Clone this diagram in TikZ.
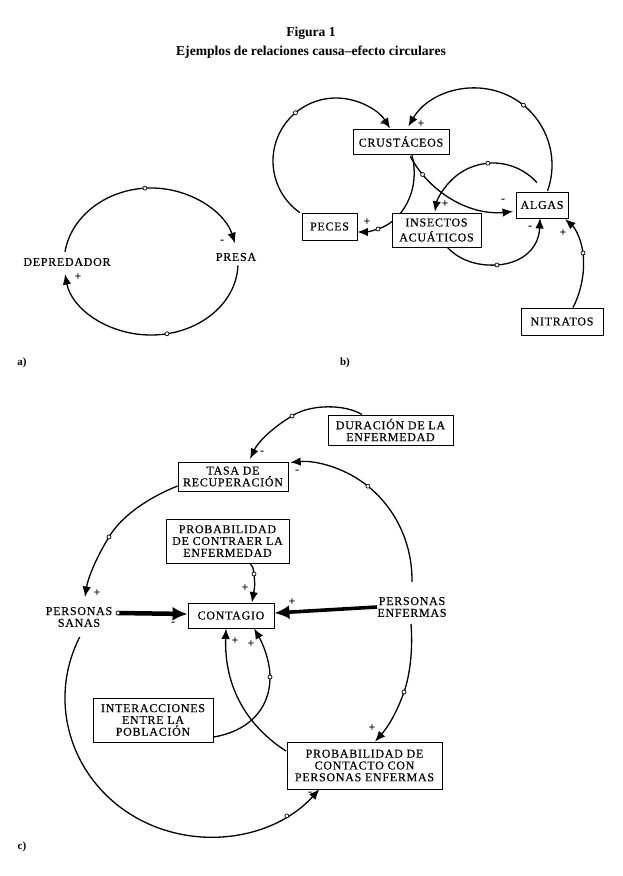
\documentclass[tikz,border=0pt]{standalone}
\usepackage{fontspec}
\setmainfont{Liberation Serif}
\newfontfamily\lblfont[LetterSpace=6,FakeBold=0.35]{Liberation Serif}
\usetikzlibrary{arrows.meta,calc}
\pgfdeclarelayer{bg}
\pgfdeclarelayer{paper}
\pgfsetlayers{paper,bg,main}
\begin{document}
\begin{tikzpicture}[x=1pt,y=-1pt,
  txt/.style={inner sep=0pt,align=center,font=\lblfont\fontsize{12}{11.8}\selectfont},
  box/.style={txt,draw,line width=0.9pt,fill=white},
  lnk/.style={line width=1.3pt,-{Latex[length=10.5pt,width=8.5pt]}},
  fatA/.style={line width=4.5pt,-{Latex[length=15pt,width=14pt]}},
  fatB/.style={line width=3.6pt,-{Latex[length=15pt,width=14pt]}},
  dot/.style={circle,draw,fill=white,inner sep=0pt,minimum size=4pt,line width=0.7pt},
  sg/.style={inner sep=0pt,font=\bfseries\fontsize{12}{12}\selectfont},
  part/.style={inner sep=0pt,font=\bfseries\fontsize{11}{11}\selectfont}
]
\useasboundingbox (0,0) rectangle (622,876);
\begin{pgfonlayer}{paper}
\fill[white] (0,0) rectangle (622,876);
\end{pgfonlayer}

% title
\node[align=center,font=\bfseries\fontsize{13.6}{19}\selectfont] (title) at (311,43)
  {Figura 1\\Ejemplos de relaciones causa–efecto circulares};

% ---------------- a)
\node[txt] (dep) at (67,262) {DEPREDADOR};
\node[txt] (presa) at (236,257) {PRESA};
\node[part] (la) at (22,363) {a)};
\begin{pgfonlayer}{bg}
\draw[lnk] ($(151,263)+(188.6:87 and 75)$) arc[start angle=188.6,end angle=344.7,x radius=87,y radius=75];
\draw[lnk] ($(151,263)+(2:87 and 72)$) arc[start angle=2,end angle=171.2,x radius=87,y radius=72];
\end{pgfonlayer}
\node[dot] (da1) at ($(151,263)+(266:87 and 75)$) {};
\node[dot] (da2) at ($(151,263)+(79.4:87 and 72)$) {};
\node[sg] (sa1) at (222,242) {-};
\node[sg] (sa2) at (78,277) {+};

% ---------------- b)
\node[box,minimum width=96pt,minimum height=25pt] (crus) at (401,141.5) {CRUSTÁCEOS};
\node[box,minimum width=55pt,minimum height=27pt] (peces) at (329.5,226.5) {PECES};
\node[box,minimum width=89pt,minimum height=34pt,font=\lblfont\fontsize{12}{15}\selectfont] (ins) at (436.5,230) {INSECTOS\\ACUÁTICOS};
\node[box,minimum width=52pt,minimum height=26pt] (algas) at (542,205) {ALGAS};
\node[box,minimum width=82pt,minimum height=27pt] (nitr) at (562,321.5) {NITRATOS};
\node[part] (lb) at (345,363) {b)};
\begin{pgfonlayer}{bg}
% peces -> crustaceos
\draw[lnk] ($(336,161)+(125:63)$) arc[start angle=125,end angle=329,radius=63];
% algas -> crustaceos
\draw[lnk] ($(475,165)+(19.6:77)$) arc[start angle=19.6,end angle=-150,radius=77];
% crustaceos -> algas
\draw[lnk] ($(503,107)+(152:105)$) arc[start angle=152,end angle=84.5,radius=105];
% crustaceos -> peces
\draw[lnk] (412,155) .. controls (421,192) and (401,222) .. (378,229) .. controls (372,231) and (367,232) .. (peces.east |- 0,232);
% algas -> insectos
\draw[lnk] ($(493,222)+(318:59)$) arc[start angle=318,end angle=190,radius=59];
% insectos -> algas
\draw[lnk] (447,247) .. controls (460,261) and (478,266) .. (497,265) .. controls (525,263) and (539,246) .. (540,218);
% nitratos -> algas
\draw[lnk] (nitr.north -| 573,0) .. controls (582,290) and (585,270) .. (583,253) .. controls (581,238) and (575,228) .. (565,219);
\end{pgfonlayer}
\node[dot] (db1) at ($(336,161)+(230:63)$) {};
\node[dot] (db2) at ($(475,165)+(-51:77)$) {};
\node[dot] (db3) at ($(503,107)+(140:105)$) {};
\node[dot] (db4) at (378,229) {};
\node[dot] (db5) at ($(493,222)+(265:59)$) {};
\node[dot] (db6) at (497,265) {};
\node[dot] (db7) at (583,253) {};
\node[sg] (sb1) at (382,125) {-};
\node[sg] (sb2) at (421,124) {+};
\node[sg] (sb3) at (503,201) {-};
\node[sg] (sb4) at (445,204) {+};
\node[sg] (sb5) at (367,222) {+};
\node[sg] (sb6) at (530,228) {-};
\node[sg] (sb7) at (563,233) {+};

% ---------------- c)
\node[box,minimum width=110pt,minimum height=29pt] (tasa) at (233,476.5) {TASA DE\\RECUPERACIÓN};
\node[box,minimum width=123pt,minimum height=44pt] (contr) at (227.5,541) {PROBABILIDAD\\DE CONTRAER LA\\ENFERMEDAD};
\node[box,minimum width=125pt,minimum height=30pt] (dur) at (390.5,430) {DURACIÓN DE LA\\ENFERMEDAD};
\node[txt] (enf) at (412,607) {PERSONAS\\ENFERMAS};
\node[box,minimum width=86pt,minimum height=25pt] (cont) at (231,615.5) {CONTAGIO};
\node[txt] (sanas) at (79,617) {PERSONAS\\SANAS};
\node[box,minimum width=120pt,minimum height=44pt] (inter) at (153,720) {INTERACCIONES\\ENTRE LA\\POBLACIÓN};
\node[box,minimum width=155pt,minimum height=47pt] (conta) at (364.5,765.5) {PROBABILIDAD DE\\CONTACTO CON\\PERSONAS ENFERMAS};
\node[part] (lc) at (22,847) {c)};
\begin{pgfonlayer}{bg}
% duracion -> tasa
\draw[lnk] (dur.north -| 362,0) .. controls (345,404) and (310,404) .. (292,416) .. controls (272,428) and (258,442) .. (250,459);
% enfermas -> tasa
\draw[lnk] ($(300,580)+(1:112 and 118)$) arc[start angle=1,end angle=-95,x radius=112,y radius=118];
% tasa -> sanas
\draw[lnk] (tasa.west |- 0,486) .. controls (150,497) and (122,515) .. (109,537) .. controls (96,558) and (88,578) .. (85,597);
% contraer -> contagio
\draw[lnk] (contr.south -| 250,0) .. controls (253,567) .. (254,574) .. controls (255,585) .. (cont.north -| 252,0);
% sanas -> contagio
\draw[fatA] (118,613) -- (cont.west |- 0,614);
% enfermas -> contagio
\draw[fatB] (377,607) -- (cont.east |- 0,613);
% interacciones -> contagio
\draw[lnk] (inter.east |- 0,737) .. controls (245,732) and (270,712) .. (270,677) .. controls (270,660) and (262,642) .. (cont.south -| 254,0);
% contacto -> contagio
\draw[lnk] (286,751) .. controls (250,728) and (224,690) .. (cont.south -| 226,0);
% enfermas -> contacto
\draw[lnk] (411,624) .. controls (413,650) and (410,675) .. (404,692) .. controls (397,712) and (388,727) .. (conta.north -| 375,0);
% sanas -> contacto
\draw[lnk] ($(210,698)+(206:145 and 139)$) arc[start angle=206,end angle=41,x radius=145,y radius=139];
\end{pgfonlayer}
\node[dot] (dc1) at (292,416) {};
\node[dot] (dc2) at ($(300,580)+(-52.7:112 and 118)$) {};
\node[dot] (dc3) at (109,537) {};
\node[dot] (dc4) at (254,574) {};
\node[dot] (dc5) at (118,613) {};
\node[dot] (dc6) at (270,677) {};
\node[dot] (dc7) at (404,692) {};
\node[dot] (dc8) at ($(210,698)+(58:145 and 139)$) {};
\node[sg] (sc1) at (262,453) {-};
\node[sg] (sc2) at (297,472) {-};
\node[sg] (sc3) at (97,593) {+};
\node[sg] (sc4) at (245,588) {+};
\node[sg] (sc5) at (173,624) {-};
\node[sg] (sc6) at (292,602) {+};
\node[sg] (sc7) at (235,641) {+};
\node[sg] (sc8) at (251,644) {+};
\node[sg] (sc9) at (372,728) {+};
\node[sg] (sc10) at (310,794) {-};
\end{tikzpicture}
\end{document}
